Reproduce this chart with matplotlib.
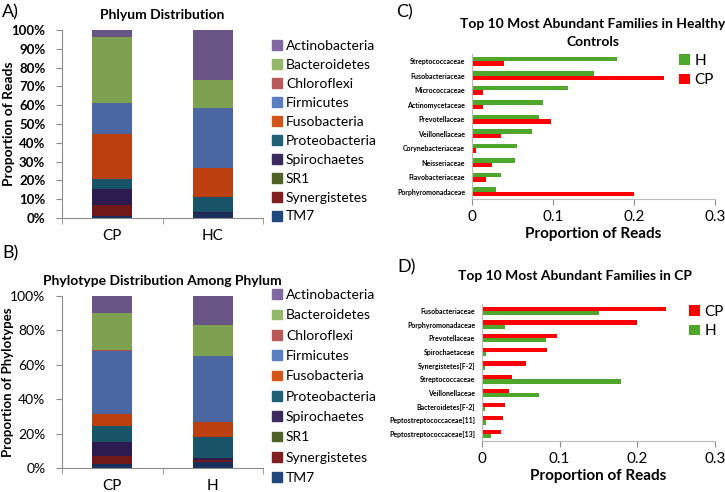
import numpy as np
import matplotlib
matplotlib.use('Agg')
import matplotlib.pyplot as plt

plt.rcParams['font.family'] = ['Lato', 'DejaVu Sans']

# phylum stacks (percent), bottom to top
phyla = ['TM7', 'Synergistetes', 'SR1', 'Spirochaetes', 'Proteobacteria',
         'Fusobacteria', 'Firmicutes', 'Chloroflexi', 'Bacteroidetes', 'Actinobacteria']
phylum_colors = ['#1B2F5C', '#711818', '#4F6228', '#2B1B4F', '#175467',
                 '#BC400F', '#4A67A1', '#B0504D', '#7EA14F', '#685586']
legend_colors = ['#1F497D', '#7F1F1F', '#4F6228', '#3A2A5E', '#1F6075',
                 '#D0561A', '#5A7EBF', '#B85A58', '#93B86A', '#8068A0']

reads_groups = ['CP', 'HC']
reads_cp = [1.2, 5.9, 0.0, 8.3, 5.3, 23.9, 16.5, 0.0, 35.4, 3.5]
reads_hc = [2.7, 0.2, 0.0, 0.3, 8.0, 15.3, 31.9, 0.1, 15.1, 26.4]

phylo_groups = ['CP', 'H']
phylo_cp = [2.5, 4.6, 0.0, 8.2, 9.2, 7.0, 36.8, 0.5, 21.4, 9.8]
phylo_h = [3.3, 1.1, 0.0, 1.4, 12.0, 9.2, 38.0, 0.0, 18.4, 16.6]

# panel C
fam_c = ['Streptococcaceae', 'Fusobacteriaceae', 'Micrococcaceae', 'Actinomycetaceae',
         'Prevotellaceae', 'Veillonellaceae', 'Corynebacteriaceae', 'Neisseriaceae',
         'Flavobacteriaceae', 'Porphyromonadaceae']
c_h = [0.179, 0.150, 0.119, 0.0875, 0.083, 0.074, 0.055, 0.053, 0.036, 0.030]
c_cp = [0.040, 0.237, 0.014, 0.013, 0.097, 0.036, 0.005, 0.025, 0.017, 0.200]

# panel D
fam_d = ['Fusobacteriaceae', 'Porphyromonadaceae', 'Prevotellaceae', 'Spirochaetaceae',
         'Synergistetes[F-2]', 'Streptococcaceae', 'Veillonellaceae', 'Bacteroidetes[F-2]',
         'Peptostreptococcaceae[11]', 'Peptostreptococcaceae[13]']
d_cp = [0.237, 0.200, 0.096, 0.084, 0.057, 0.039, 0.035, 0.029, 0.027, 0.025]
d_h = [0.150, 0.030, 0.082, 0.0056, 0.0034, 0.179, 0.074, 0.004, 0.0056, 0.012]

W, H = 725, 492
fig = plt.figure(figsize=(W / 100, H / 100), dpi=100)
GREEN = '#4EA72A'
RED = '#FF0000'
SPINE = '#8C8C8C'


def box(l, t, r, b):
    return [l / W, 1 - b / H, (r - l) / W, (b - t) / H]


def stacked(rect, groups, cols, ticks, ylabel, ylab_xy, ylab_size, title, bold_ticks,
            leg_top, leg_space):
    ax = fig.add_axes(box(*rect))
    x = np.arange(len(groups))
    bottom = np.zeros(len(groups))
    handles = []
    for i, name in enumerate(phyla):
        vals = np.array([c[i] for c in cols])
        ax.bar(x, vals, 0.4, bottom=bottom, color=phylum_colors[i], linewidth=0)
        handles.append(plt.Rectangle((0, 0), 1, 1, color=legend_colors[i], label=name))
        bottom += vals
    ax.set_xlim(-0.5, len(groups) - 0.5)
    ax.set_ylim(0, 100)
    ax.set_yticks(ticks)
    if bold_ticks:
        ax.set_yticklabels(['%d%%' % t for t in ticks], fontsize=9.5, fontweight='bold')
    else:
        ax.set_yticklabels(['%d%%' % t for t in ticks], fontsize=10)
    ax.set_xticks(x)
    ax.set_xticklabels(groups, fontsize=11)
    ax.tick_params(axis='x', length=0, pad=8)
    ax.set_xticks(np.arange(-0.5, len(groups)), minor=True)
    ax.tick_params(axis='x', which='minor', length=4, color=SPINE)
    ax.tick_params(axis='y', length=4, color=SPINE, pad=8)
    for s in ['top', 'right']:
        ax.spines[s].set_visible(False)
    for s in ['left', 'bottom']:
        ax.spines[s].set_color(SPINE)
    fig.text(ylab_xy[0] / W, 1 - ylab_xy[1] / H, ylabel, rotation=90,
             ha='center', va='center', fontsize=ylab_size, fontweight='bold')
    ax.set_title(title, fontsize=10, fontweight='bold', pad=8)
    fig.legend(handles=handles[::-1], loc='upper left',
               bbox_to_anchor=(272 / W, 1 - leg_top / H), frameon=False,
               fontsize=10, handlelength=0.7, handleheight=0.7, handletextpad=0.3,
               labelspacing=leg_space, borderpad=0, borderaxespad=0)
    return ax


stacked((62, 30, 263, 218), reads_groups, [reads_cp, reads_hc],
        list(range(0, 101, 10)), 'Proportion of Reads', (9, 124), 10,
        'Phlyum Distribution', True, 40, 0.5)
stacked((62, 296, 263, 468), phylo_groups, [phylo_cp, phylo_h],
        list(range(0, 101, 20)), 'Proportion of Phylotypes', (8, 382), 9.5,
        'Phylotype Distribution Among Phylum', False, 289, 0.6)


def hbars(rect, fams, first, second, names, colors, leg_xy):
    ax = fig.add_axes(box(*rect))
    y = np.arange(len(fams))
    h = 0.31
    ax.barh(y - h / 2, first, h, color=colors[0], label=names[0], linewidth=0)
    ax.barh(y + h / 2, second, h, color=colors[1], label=names[1], linewidth=0)
    ax.set_ylim(len(fams) - 0.5, -0.5)
    ax.set_xlim(0, 0.3)
    ax.set_yticks(y)
    ax.set_yticklabels(fams, fontsize=5, fontweight='bold')
    ax.tick_params(axis='y', length=0, pad=5)
    ax.set_xticks([0, 0.1, 0.2, 0.3])
    ax.set_xticklabels(['0', '0.1', '0.2', '0.3'], fontsize=11)
    ax.tick_params(axis='x', length=4, color=SPINE, pad=4)
    for s in ['top', 'right']:
        ax.spines[s].set_visible(False)
    for s in ['left', 'bottom']:
        ax.spines[s].set_color('#BBBBBB')
    ax.set_xlabel('Proportion of Reads', fontsize=11, fontweight='bold', labelpad=2)
    ax.legend(loc='upper left', bbox_to_anchor=(leg_xy[0] / W, 1 - leg_xy[1] / H),
              bbox_transform=fig.transFigure, frameon=False, fontsize=11,
              handlelength=0.7, handleheight=0.7, handletextpad=0.3,
              labelspacing=0.35, borderpad=0, borderaxespad=0)
    return ax


axc = hbars((472, 54, 715, 199), fam_c, c_h, c_cp, ['H', 'CP'], [GREEN, RED], (679, 54))
fig.text(593 / W, 1 - 24 / H, 'Top 10 Most Abundant Families in Healthy',
         ha='center', va='center', fontsize=10, fontweight='bold')
fig.text(593 / W, 1 - 42 / H, 'Controls',
         ha='center', va='center', fontsize=10, fontweight='bold')

axd = hbars((482, 304, 715, 441), fam_d, d_cp, d_h, ['CP', 'H'], [RED, GREEN], (689, 305))
fig.text(575 / W, 1 - 276 / H, 'Top 10 Most Abundant Families in CP',
         ha='center', va='center', fontsize=10, fontweight='bold')

for lab, x, y in [('A)', 2, 12), ('B)', 2, 253), ('C)', 396, 12), ('D)', 397, 267)]:
    fig.text(x / W, 1 - y / H, lab, fontsize=13, va='center', ha='left')

fig.savefig('out.png', dpi=100)
